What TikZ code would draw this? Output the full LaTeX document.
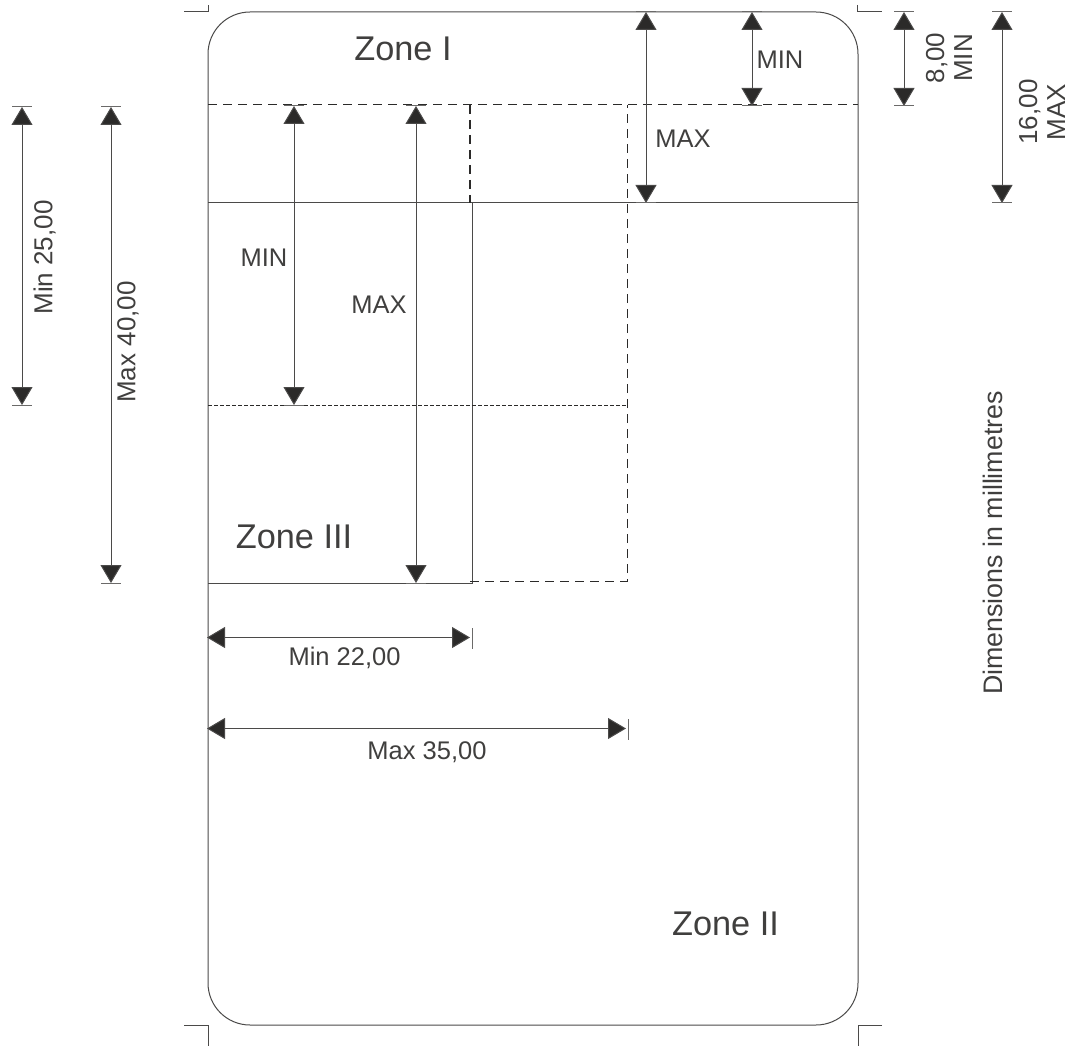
\documentclass[tikz,border=0pt]{standalone}
\usepackage{fontspec}
\setmainfont{Liberation Sans}
\usetikzlibrary{arrows.meta}
\definecolor{inkcol}{HTML}{2B2A29}
\tikzset{
    outline/.style={draw=inkcol!85, line width=1pt},
    dashline/.style={draw=inkcol, line width=1pt, dash pattern=on 9pt off 6pt},
    dimline/.style={draw=inkcol!85, line width=1pt, {Triangle[length=18pt,width=21pt,fill=inkcol]}-{Triangle[length=18pt,width=21pt,fill=inkcol]}},
    tick/.style={draw=inkcol!70, line width=1pt},
    zonelabel/.style={text=inkcol!90, font=\fontsize{34.3}{40}\selectfont},
    dimlabel/.style={text=inkcol!90, inner sep=0pt, font=\fontsize{25.5}{28}\selectfont, align=center},
    sidelabel/.style={dimlabel, rotate=90, font=\fontsize{26}{28}\selectfont}
}
\begin{document}
\begin{tikzpicture}[x=1pt, y=-1pt]
    \useasboundingbox (0,0) rectangle (1069,1046);

    % Card outline
    \draw[outline, rounded corners=42pt] (208,12) rectangle (858,1025);

    % Crop marks
    \draw[outline] (184,12) -- (208,12) -- (208,5);
    \draw[outline] (857,5) -- (857,12) -- (882,12);
    \draw[outline] (184,1025) -- (208,1025) -- (208,1046);
    \draw[outline] (882,1025) -- (858,1025) -- (858,1046);

    % Zone limits
    \draw[outline] (208,203) -- (858,203);
    \draw[outline] (208,583) -- (472,583) -- (472,203);
    \draw[dashline] (208,105) -- (858,105);
    \draw[dashline, line width=1.6pt] (470,105) -- (470,203);
    \draw[dashline] (470,581) -- (627,581) -- (627,105);
    \draw[dashline, dash pattern=on 4pt off 2pt, line width=.8pt] (208,405) -- (627,405);

    % Named ends of the dimension lines
    \coordinate (topA) at (646,12);
    \coordinate (topB) at (752,12);
    \coordinate (topC) at (904,12);
    \coordinate (topD) at (1002,12);
    \coordinate (maxA) at (646,203);
    \coordinate (minB) at (752,106);
    \coordinate (minC) at (904,106);
    \coordinate (maxD) at (1002,203);
    \coordinate (topE) at (294,106);
    \coordinate (topF) at (416,106);
    \coordinate (topG) at (22,107);
    \coordinate (topH) at (111,107);
    \coordinate (minE) at (294,405);
    \coordinate (maxF) at (416,583);
    \coordinate (minG) at (22,405);
    \coordinate (maxH) at (111,583);
    \coordinate (leftI) at (207,637.5);
    \coordinate (leftJ) at (207,728.5);
    \coordinate (minI) at (470,637.5);
    \coordinate (maxJ) at (626,728.5);

    % Draw dimension arrows
    \draw[dimline] (topA) -- (maxA);
    \draw[dimline] (topB) -- (minB);
    \draw[dimline] (topC) -- (minC);
    \draw[dimline] (topD) -- (maxD);
    \draw[dimline] (topE) -- (minE);
    \draw[dimline] (topF) -- (maxF);
    \draw[dimline] (topG) -- (minG);
    \draw[dimline] (topH) -- (maxH);
    \draw[dimline] (leftI) -- (minI);
    \draw[dimline] (leftJ) -- (maxJ);

    % Draw ticks
    \foreach \pt in {topA,topB,topC,topD,maxA,minB,minC,maxD,topE,topF,topG,topH,minE,maxF,minG,maxH}
        \draw[tick] ([xshift=-10pt]\pt) -- ([xshift=10pt]\pt);
    \draw[tick] ([xshift=2.5pt,yshift=-11pt]minI) -- ([xshift=2.5pt,yshift=10pt]minI);
    \draw[tick] ([xshift=2pt,yshift=-11pt]maxJ) -- ([xshift=2pt,yshift=10pt]maxJ);

    % Labels
    \node[zonelabel] (zoneone) at (403,49) {Zone I};
    \node[zonelabel] (zonethree) at (294,537) {Zone III};
    \node[zonelabel] (zonetwo) at (725.5,924) {Zone II};
    \node[dimlabel] (minB label) at (780,60) {MIN};
    \node[dimlabel] (maxA label) at (683,139) {MAX};
    \node[dimlabel] (minE label) at (264,258) {MIN};
    \node[dimlabel] (maxF label) at (379,305) {MAX};
    \node[sidelabel] (minC label) at (949,58) {8,00\\MIN};
    \node[sidelabel] (maxD label) at (1042,112) {16,00\\MAX};
    \node[sidelabel] (minG label) at (44.5,257.5) {Min 25,00};
    \node[sidelabel] (maxH label) at (128,342) {Max 40,00};
    \node[dimlabel] (minI label) at (344.5,658) {Min 22,00};
    \node[dimlabel] (maxJ label) at (427,752) {Max 35,00};
    \node[sidelabel, font=\fontsize{26.8}{28}\selectfont] (units) at (992.5,543) {Dimensions in millimetres};
\end{tikzpicture}
\end{document}
